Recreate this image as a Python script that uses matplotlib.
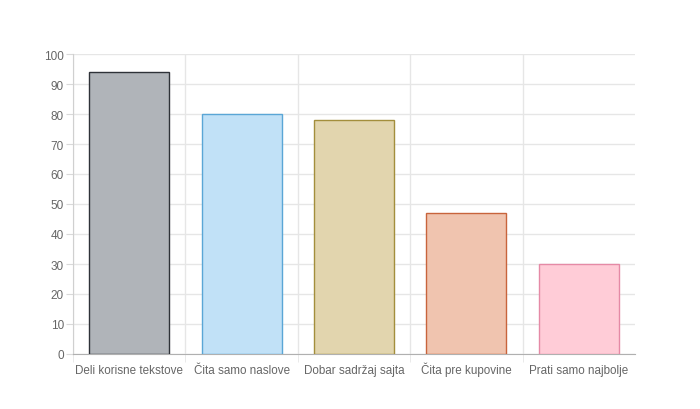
import matplotlib.pyplot as plt
import numpy as np

categories = ["Deli korisne tekstove", "Čita samo naslove", "Dobar sadržaj sajta",
              "Čita pre kupovine", "Prati samo najbolje"]
values = [94, 80, 78, 47, 30]
fill_colors = ["#b0b4b9", "#c1e1f7", "#e2d5ae", "#f0c4af", "#ffccd7"]
edge_colors = ["#2e3238", "#5aa6d6", "#a38e3c", "#c8643c", "#e58aa6"]
y_ticks = list(range(0, 101, 10))

plt.rcParams['font.family'] = ['Liberation Sans', 'DejaVu Sans']

fig = plt.figure(figsize=(7, 4.1), dpi=100)
ax = fig.add_axes([73 / 700, 55 / 410, 562 / 700, 300 / 410])

x = np.arange(len(categories))
ax.bar(x, values, width=0.71, color=fill_colors, edgecolor=edge_colors, linewidth=1.0, zorder=3)

ax.set_xlim(-0.5, len(categories) - 0.5)
ax.set_ylim(0, 100)
ax.set_yticks(y_ticks)
ax.set_xticks(x)
ax.set_xticklabels(categories, va='baseline')

# vertical grid at category boundaries (last one not drawn)
ax.set_xticks(np.arange(-0.5, len(categories) - 1, 1), minor=True)
ax.grid(True, which='minor', axis='x', color='#e6e6e6', linewidth=1, zorder=0)
ax.grid(True, which='major', axis='y', color='#e6e6e6', linewidth=1, zorder=0)

for side in ['top', 'right']:
    ax.spines[side].set_visible(False)
ax.spines['left'].set_color('#d0d0d0')
ax.spines['bottom'].set_color('#b0b0b0')

ax.tick_params(axis='y', which='major', length=5, color='#d9d9d9', labelcolor='#666666', labelsize=8.5, pad=1.5)
ax.tick_params(axis='x', which='major', length=0, labelcolor='#666666', labelsize=8.4, pad=13.5)
ax.tick_params(axis='x', which='minor', length=6, color='#e6e6e6')

fig.savefig("out.png", dpi=100)
